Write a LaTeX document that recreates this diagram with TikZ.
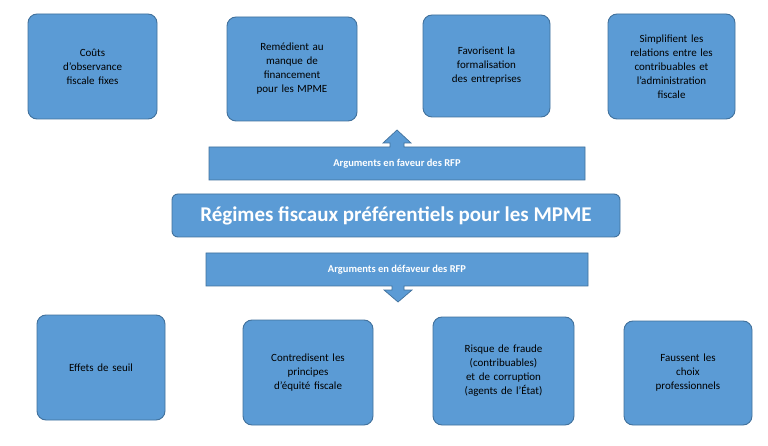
\documentclass[tikz,border=0pt]{standalone}
\usepackage{fontspec}
\setmainfont{Carlito}
\begin{document}
\begin{tikzpicture}[x=1pt,y=-1pt,
  box/.style={draw=boxline,fill=boxfill,rounded corners=9pt,line width=0.9pt,align=center,text=black,font=\fontsize{11}{14}\selectfont,inner sep=2pt},
  bar/.style={draw=boxline,fill=boxfill,line width=0.7pt},
  bartext/.style={text=white,font=\bfseries\fontsize{10.5}{12}\selectfont}]
\definecolor{boxfill}{HTML}{5B9BD5}
\definecolor{boxline}{HTML}{41719C}
\useasboundingbox (0,0) rectangle (768,446);
\fill[white] (0,0) rectangle (768,446);
% top boxes
\node[box,minimum width=129pt,minimum height=105pt,text width=110pt] (t1) at (92.5,66.5) {Coûts\\d’observance\\fiscale fixes};
\node[box,minimum width=130pt,minimum height=104pt,text width=110pt] (t2) at (292,69) {Remédient au\\manque de\\financement\\pour les MPME};
\node[box,minimum width=127pt,minimum height=102pt,text width=110pt] (t3) at (486.5,66) {Favorisent la\\formalisation\\des entreprises};
\node[box,minimum width=127pt,minimum height=105pt,text width=118pt] (t4) at (671.5,66.5) {Simplifient les\\relations entre les\\contribuables et\\l’administration\\fiscale};
% upper bar with arrow
\draw[bar] (209,147) -- (390,147) -- (390,143) -- (383,143) -- (397,130) -- (411,143) -- (404,143) -- (404,147) -- (585,147) -- (585,180) -- (209,180) -- cycle;
\node[bartext] (up) at (397,163.5) {Arguments en faveur des RFP};
% centre
\node[box,minimum width=448pt,minimum height=43pt,rounded corners=6pt,text=white,font=\bfseries\fontsize{21}{24}\selectfont] (c) at (396,215.5) {Régimes fiscaux préférentiels pour les MPME};
% lower bar with arrow
\draw[bar] (206,253) -- (588,253) -- (588,286) -- (404,286) -- (404,290) -- (412,290) -- (398,302) -- (384,290) -- (392,290) -- (392,286) -- (206,286) -- cycle;
\node[bartext] (down) at (397,269.5) {Arguments en défaveur des RFP};
% bottom boxes
\node[box,minimum width=128pt,minimum height=105pt,text width=110pt] (b1) at (101,367.5) {Effets de seuil};
\node[box,minimum width=130pt,minimum height=105pt,text width=112pt] (b2) at (308,372.5) {Contredisent les\\principes\\d’équité fiscale};
\node[box,minimum width=141pt,minimum height=108pt,text width=125pt] (b3) at (503.5,371) {Risque de fraude\\(contribuables)\\et de corruption\\(agents de l’État)};
\node[box,minimum width=128pt,minimum height=104pt,text width=110pt] (b4) at (688,373) {Faussent les\\choix\\professionnels};
\end{tikzpicture}
\end{document}
